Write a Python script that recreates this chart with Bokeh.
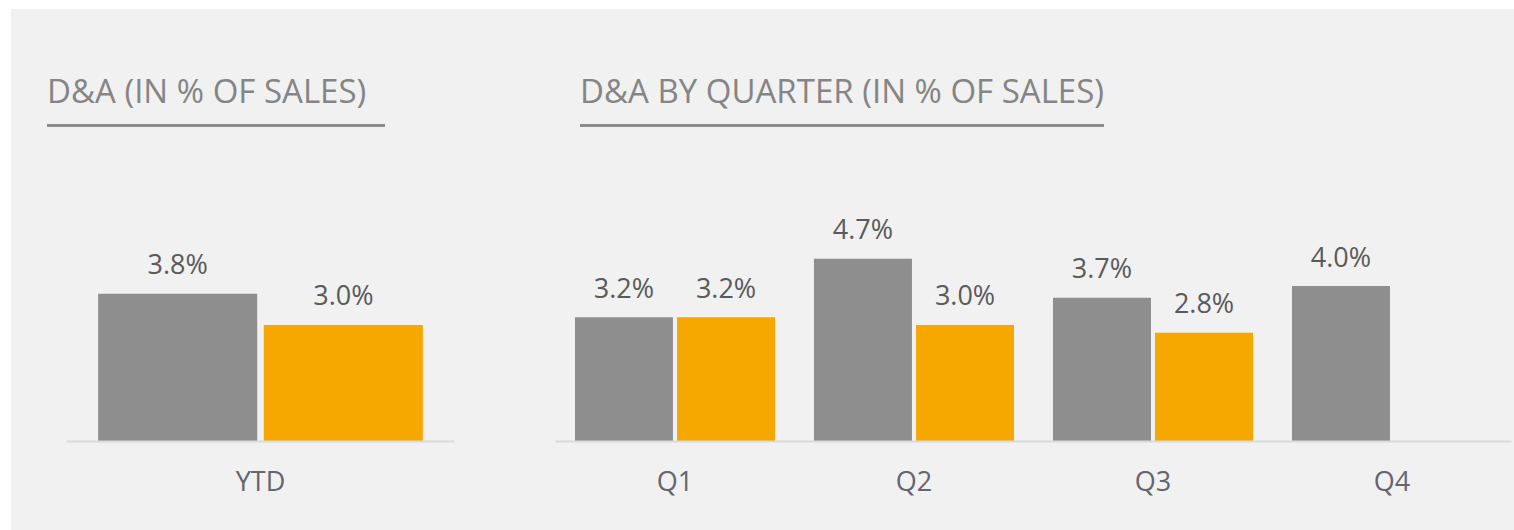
from bokeh.plotting import figure
from bokeh.models import FactorRange, Range1d, ColumnDataSource, Div
from bokeh.transform import dodge
from bokeh.layouts import row, column
from bokeh.core.properties import value
from bokeh.embed import file_html
from bokeh.resources import INLINE

# ---- data ----
ytd_categories = ["YTD"]
ytd_prev = [3.8]
ytd_curr = [3.0]

quarters = ["Q1", "Q2", "Q3", "Q4"]
q_prev = [3.2, 4.7, 3.7, 4.0]
q_curr = [3.2, 3.0, 2.8, None]

title_left = "D&A (IN % OF SALES)"
title_right = "D&A BY QUARTER (IN % OF SALES)"

# ---- style ----
BG = "#f0f1f0"
GRAY = "#8e8e8e"
ORANGE = "#f6a700"
TITLE_COLOR = "#858585"
VALUE_COLOR = "#5a5a5a"
CAT_COLOR = "#65656f"
FONT = "Open Sans"


def make_source(cats, vals):
    c = [k for k, v in zip(cats, vals) if v is not None]
    v = [x for x in vals if x is not None]
    return ColumnDataSource(dict(cat=c, val=v, label=[f"{x:.1f}%" for x in v]))


def make_panel(cats, prev, curr, width, bl, br):
    p = figure(
        x_range=FactorRange(*cats),
        y_range=Range1d(0, 7.0),
        width=width, height=399,
        output_backend="svg", toolbar_location=None,
        y_axis_location=None,
        min_border_left=bl, min_border_right=br,
        min_border_top=38, min_border_bottom=89,
        background_fill_color=BG, border_fill_color=BG,
        outline_line_color=None,
    )
    p.grid.visible = False
    off = 0.2135
    for vals, color, o in ((prev, GRAY, -off), (curr, ORANGE, off)):
        src = make_source(cats, vals)
        p.vbar(x=dodge("cat", o, range=p.x_range), top="val", width=0.41,
               source=src, fill_color=color, line_color=None)
        p.text(x=dodge("cat", o, range=p.x_range), y="val", text="label",
               source=src, text_align="center", text_baseline="alphabetic",
               y_offset=-30, text_font=value(FONT), text_font_size="27px",
               text_color=VALUE_COLOR)
    ax = p.xaxis[0]
    ax.axis_line_color = "#dadada"
    ax.axis_line_width = 2
    ax.major_tick_line_color = None
    ax.minor_tick_line_color = None
    ax.major_tick_out = 0
    ax.major_tick_in = 0
    ax.major_label_text_font = FONT
    ax.major_label_text_font_size = "27px"
    ax.major_label_text_color = CAT_COLOR
    ax.major_label_standoff = 20
    return p


def make_title(text, left, w, width):
    html = (
        f'<div style="margin-left:{left}px;width:{w}px;padding-top:65px;'
        f'padding-bottom:17px;border-bottom:3px solid #8c8c8c;'
        f'font-family:\'Open Sans\';font-size:33px;line-height:1;'
        f'color:{TITLE_COLOR};white-space:nowrap;">'
        f'{text.replace("&", "&amp;")}</div>'
    )
    return Div(text=html, width=width, height=122, margin=(0, 0, 0, 0),
               styles={"background-color": BG})


p1 = make_panel(ytd_categories, ytd_prev, ytd_curr, 494, 55, 51)
p2 = make_panel(quarters, q_prev, q_curr, 1009, 50, 3)

col1 = column(make_title(title_left, 36, 338, 494), p1, spacing=0)
col2 = column(make_title(title_right, 75, 524, 1009), p2, spacing=0)
layout = row(col1, col2, spacing=0, margin=(9, 0, 0, 11),
             styles={"background-color": BG})

open("out.html", "w").write(file_html(layout, INLINE))
